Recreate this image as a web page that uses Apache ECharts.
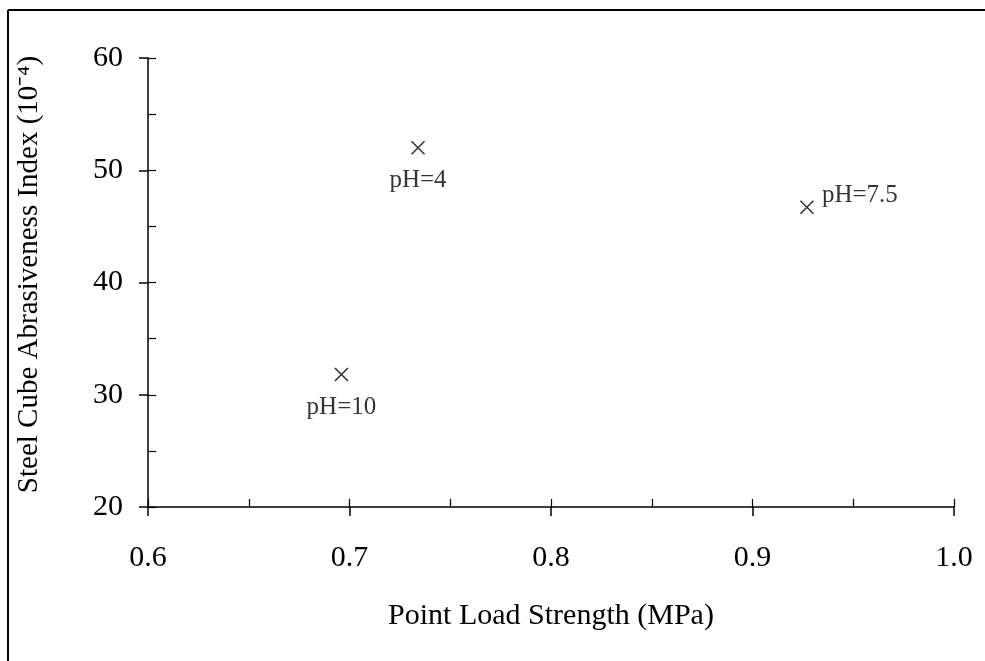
<!DOCTYPE html>
<html>
<head>
<meta charset="utf-8">
<script src="https://cdn.jsdelivr.net/npm/echarts@6/dist/echarts.min.js"></script>
<style>
  html, body { margin: 0; padding: 0; background: #fff; }
  #chart { width: 985px; height: 661px; }
</style>
</head>
<body>
<div id="chart"></div>
<script>
    'use strict';
    // values
    var samples = ['pH=4', 'pH=7.5', 'pH=10'];
    var strength = [0.734, 0.927, 0.696];      // MPa
    var abrasiveness = [52.0, 46.7, 31.8];     // 10^-4

    var font = 'Liberation Serif';
    var labelPlace = {
        'pH=4': { position: 'bottom', distance: 11 },
        'pH=7.5': { position: 'right', distance: 6, offset: [0, -12] },
        'pH=10': { position: 'bottom', distance: 11 }
    };

    var points = samples.map(function(name, i) {
        var p = labelPlace[name];
        return {
            name: name,
            value: [strength[i], abrasiveness[i]],
            label: { show: true, position: p.position, distance: p.distance, offset: p.offset || [0, 0] }
        };
    });

    var chart = echarts.init(document.getElementById('chart'));
    chart.setOption({
        backgroundColor: '#fff',
        animation: false,
        grid: { left: 148, right: 31, top: 58, bottom: 154 },
        graphic: [
            { type: 'line', shape: { x1: 8, y1: 10, x2: 985, y2: 10 }, style: { stroke: '#000', lineWidth: 2 } },
            { type: 'line', shape: { x1: 8, y1: 10, x2: 8, y2: 661 }, style: { stroke: '#000', lineWidth: 2 } }
        ],
        xAxis: [{
            type: 'value', min: 0.6, max: 1.0, interval: 0.1,
            name: 'Point Load Strength (MPa)', nameLocation: 'middle', nameGap: 94,
            nameTextStyle: { fontFamily: font, fontSize: 30, color: '#000' },
            axisLine: { lineStyle: { color: '#000', width: 1.5 } },
            axisTick: { show: true, inside: false, length: 9, lineStyle: { color: '#000', width: 1.5 } },
            axisLabel: { margin: 36, fontFamily: font, fontSize: 30, color: '#000',
                formatter: function(v) { return v.toFixed(1); } },
            splitLine: { show: false }
        }, {
            type: 'value', min: 0.6, max: 1.0, interval: 0.05, position: 'bottom',
            axisLine: { show: false },
            axisTick: { show: true, inside: true, length: 8, lineStyle: { color: '#000', width: 1.2 } },
            axisLabel: { show: false },
            splitLine: { show: false }
        }],
        yAxis: [{
            type: 'value', min: 20, max: 60, interval: 10,
            name: 'Steel Cube Abrasiveness Index (10\u207B\u2074)', nameLocation: 'middle', nameGap: 104,
            nameTextStyle: { fontFamily: font, fontSize: 29, color: '#000', padding: [0, 0, 0, 16] },
            axisLine: { show: true, lineStyle: { color: '#000', width: 1.5 } },
            axisTick: { show: true, inside: false, length: 9, lineStyle: { color: '#000', width: 1.5 } },
            axisLabel: { margin: 25, fontFamily: font, fontSize: 30, color: '#000' },
            splitLine: { show: false }
        }, {
            type: 'value', min: 20, max: 60, interval: 5, position: 'left',
            axisLine: { show: false },
            axisTick: { show: true, inside: true, length: 8, lineStyle: { color: '#000', width: 1.2 } },
            axisLabel: { show: false },
            splitLine: { show: false }
        }],
        series: [{
            type: 'scatter',
            xAxisIndex: 0,
            yAxisIndex: 0,
            symbol: 'path://M0,0L10,10M10,0L0,10',
            symbolSize: 13,
            itemStyle: { color: 'none', borderColor: '#000', borderWidth: 1.6 },
            label: { fontFamily: font, fontSize: 25, color: '#000',
                formatter: function(p) { return p.name; } },
            data: points
        }]
    });
</script>
</body>
</html>
